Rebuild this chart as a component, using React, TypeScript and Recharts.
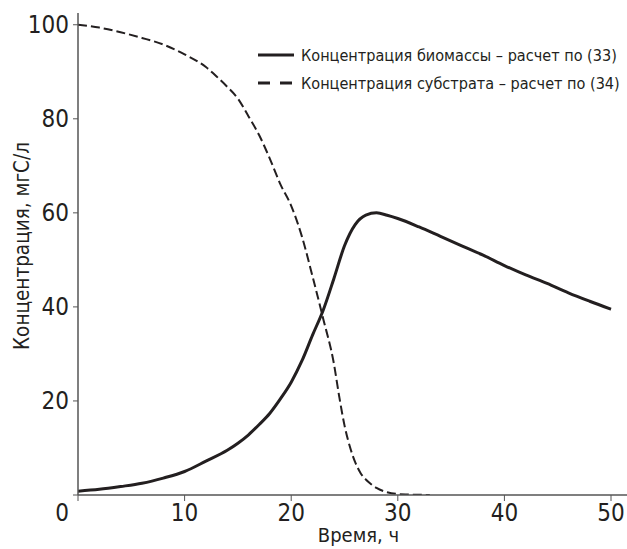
import { LineChart, Line, XAxis, YAxis } from "recharts"

// время, ч и концентрация биомассы, мгС/л
const biomassTime = [0, 2, 4, 6, 8, 10, 12, 14, 15, 16, 17, 18, 19, 20, 21, 22, 23, 24, 25, 26, 27, 28, 29, 30, 32, 34, 36, 38, 40, 42, 44, 46, 48, 50]
const biomassConc = [0.8, 1.2, 1.8, 2.5, 3.6, 5, 7.2, 9.5, 11, 12.8, 15, 17.4, 20.5, 24, 28.5, 34, 39.3, 46, 53, 57.5, 59.5, 60, 59.5, 58.8, 57, 55, 53, 51, 48.8, 46.8, 45, 43, 41.2, 39.5]

// концентрация субстрата
const substrateTime = [0, 2, 4, 6, 8, 10, 12, 13, 14, 15, 16, 17, 18, 19, 20, 21, 22, 23, 24, 24.5, 25, 25.5, 26, 26.5, 27, 27.5, 28, 29, 30, 31, 33]
const substrateConc = [100, 99.4, 98.4, 97.2, 95.8, 93.7, 91, 89, 86.8, 84.3, 80.5, 76.5, 71.5, 66, 61.5, 55, 46.5, 37.5, 28, 21, 14.8, 10.3, 7, 4.7, 3.3, 2.3, 1.5, 0.6, 0.2, 0.1, 0]

const xTicks = [0, 10, 20, 30, 40, 50]
const yTicks = [0, 20, 40, 60, 80, 100]

const legendItems = [
  { name: "Концентрация биомассы – расчет по (33)", dash: undefined },
  { name: "Концентрация субстрата – расчет по (34)", dash: "12 10" },
]

const biomass = biomassTime.map((t, i) => ({ t, c: biomassConc[i] }))
const substrate = substrateTime.map((t, i) => ({ t, c: substrateConc[i] }))

const FONT = "'Liberation Sans Narrow', 'DejaVu Sans Condensed', 'DejaVu Sans', sans-serif"
const INK = "#231f20"
const AXIS = "#555"

const XTick = ({ x, y, payload }: any) => (
  <text
    x={payload.value === 0 ? x - 16 : x}
    y={y + 18}
    textAnchor="middle"
    fontFamily={FONT}
    fontStretch="condensed"
    fontSize={24}
    fill={INK}
  >
    {payload.value}
  </text>
)

const YTick = ({ x, y, payload }: any) =>
  payload.value === 0 ? null : (
    <text x={x} y={y + 8} textAnchor="end" fontFamily={FONT} fontStretch="condensed" fontSize={24} fill={INK}>
      {payload.value}
    </text>
  )

const LegendBox = () => (
  <div
    style={{
      position: "absolute",
      left: 255,
      top: 41,
      fontFamily: FONT,
      fontStretch: "condensed",
      fontSize: 16.1,
      color: INK,
    }}
  >
    {legendItems.map(item => (
      <div key={item.name} style={{ display: "flex", alignItems: "center", height: 28 }}>
        <svg width={46} height={10}>
          <line x1={3} y1={5} x2={39} y2={5} stroke={INK} strokeWidth={3} strokeDasharray={item.dash} />
        </svg>
        <span style={{ whiteSpace: "nowrap" }}>{item.name}</span>
      </div>
    ))}
  </div>
)

export default function App() {
  return (
    <div style={{ position: "absolute", left: 0, top: 0, width: 627, height: 549, background: "white" }}>
      <LineChart width={627} height={549} margin={{ top: 13, right: 0, left: 0, bottom: 0 }}>
        <XAxis
          type="number"
          dataKey="t"
          domain={[0, 51.5]}
          ticks={xTicks}
          tick={<XTick />}
          tickSize={6}
          axisLine={{ stroke: AXIS, strokeWidth: 1.5 }}
          tickLine={{ stroke: AXIS }}
          height={54}
          allowDataOverflow
          label={{
            value: "Время, ч",
            position: "insideBottom",
            offset: 7,
            dx: 6,
            style: { fontFamily: FONT, fontStretch: "condensed", fontSize: 20, fill: INK },
          }}
        />
        <YAxis
          type="number"
          dataKey="c"
          domain={[0, 102.5]}
          ticks={yTicks}
          tick={<YTick />}
          tickSize={5}
          tickMargin={4}
          width={78}
          axisLine={{ stroke: AXIS, strokeWidth: 1.5 }}
          tickLine={{ stroke: AXIS }}
          allowDataOverflow
          label={{
            value: "Концентрация, мгС/л",
            angle: -90,
            position: "insideLeft",
            offset: 22,
            dy: -8,
            style: { fontFamily: FONT, fontStretch: "condensed", fontSize: 20.5, fill: INK, textAnchor: "middle" },
          }}
        />
        <Line
          data={biomass}
          dataKey="c"
          name="biomass"
          type="monotone"
          stroke={INK}
          strokeWidth={3}
          dot={false}
          isAnimationActive={false}
        />
        <Line
          data={substrate}
          dataKey="c"
          name="substrate"
          type="monotone"
          stroke={INK}
          strokeWidth={2}
          strokeDasharray="9 4"
          dot={false}
          isAnimationActive={false}
        />
      </LineChart>
      <LegendBox />
    </div>
  )
}
